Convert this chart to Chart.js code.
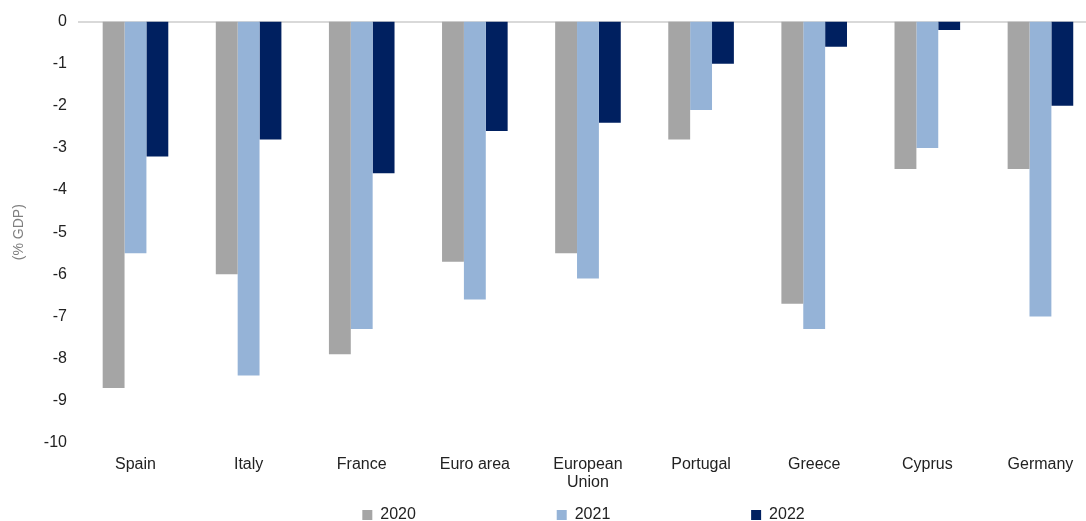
<!DOCTYPE html>
<html>
<head>
<meta charset="utf-8">
<script src="https://cdn.jsdelivr.net/npm/chart.js@4/dist/chart.umd.min.js"></script>
<style>
  html, body { margin: 0; padding: 0; background: #fff; overflow: hidden; }
  #wrap { width: 1097px; height: 521px; }
</style>
</head>
<body>
<div id="wrap"><canvas id="chart"></canvas></div>
<script>
const countries = ["Spain", "Italy", "France", "Euro area", ["European", "Union"], "Portugal", "Greece", "Cyprus", "Germany"];
const years = ["2020", "2021", "2022"];
const values2020 = [-8.7, -6.0, -7.9, -5.7, -5.5, -2.8, -6.7, -3.5, -3.5];
const values2021 = [-5.5, -8.4, -7.3, -6.6, -6.1, -2.1, -7.3, -3.0, -7.0];
const values2022 = [-3.2, -2.8, -3.6, -2.6, -2.4, -1.0, -0.6, -0.2, -2.0];

const font = { family: "Liberation Sans, Arial, sans-serif", size: 16 };
// legend items are spread wide in the original, pad them with spaces
const legendGap = "\u00A0".repeat(31);

function makeChart(ctx) {
  let config = {
    type: "bar",
    data: {
      labels: countries,
      datasets: [
        { label: years[0], data: values2020, backgroundColor: "#a5a5a5" },
        { label: years[1], data: values2021, backgroundColor: "#95b3d7" },
        { label: years[2], data: values2022, backgroundColor: "#002060" },
      ],
    },
    options: {
      responsive: true,
      maintainAspectRatio: false,
      animation: false,
      layout: { padding: { top: 0, left: 5, right: 0, bottom: -12 } },
      datasets: { bar: { categoryPercentage: 0.58, barPercentage: 1.0 } },
      plugins: {
        legend: {
          position: "bottom",
          fullSize: false,
          labels: {
            font: font,
            color: "#222",
            boxWidth: 10,
            boxHeight: 10,
            padding: 3,
            generateLabels(chart) {
              const items = Chart.defaults.plugins.legend.labels.generateLabels(chart);
              items.forEach((it, i) => {
                it.lineWidth = 0;
                it.text = it.text + (i < items.length - 1 ? legendGap : "\u00A0\u00A0");
              });
              return items;
            },
          },
        },
        tooltip: { enabled: false },
      },
      scales: {
        x: {
          position: "top",
          grid: { display: false, drawTicks: false },
          border: { display: true, color: "#d9d9d9", width: 2 },
          ticks: { display: false },
        },
        x2: {
          type: "category",
          labels: countries,
          position: "bottom",
          grid: { display: false, drawTicks: false },
          border: { display: false },
          ticks: {
            font: { family: font.family, size: 16, lineHeight: 1.1 },
            color: "#222",
            maxRotation: 0,
            autoSkip: false,
            padding: 13,
          },
        },
        y: {
          min: -10,
          max: 0,
          grid: { display: false, drawTicks: false },
          border: { display: false },
          ticks: { stepSize: 1, font: font, color: "#222", padding: 12 },
          title: {
            display: true,
            text: "(% GDP)",
            font: { family: font.family, size: 14 },
            color: "#7f7f7f",
            padding: { top: 6, bottom: 4 },
          },
        },
      },
    },
  };
  return new Chart(ctx, config);
}

makeChart(document.getElementById("chart"));
</script>
</body>
</html>
